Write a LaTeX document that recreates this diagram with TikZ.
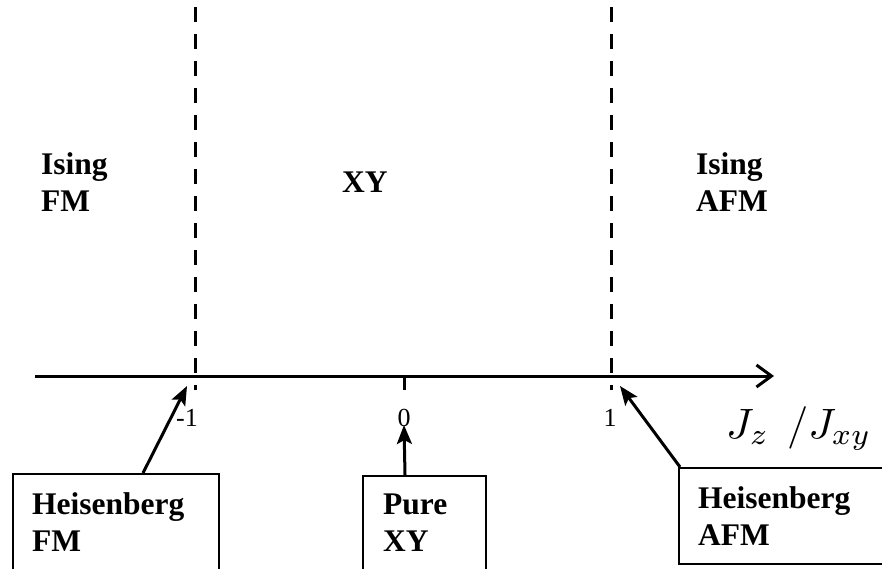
\documentclass[tikz,border=0pt]{standalone}
\usepackage{fontspec}
\setmainfont{Liberation Serif}
\usetikzlibrary{arrows.meta}
\begin{document}
\begin{tikzpicture}[x=1pt,y=-1pt,
  region/.style={font=\fontsize{31.5}{37}\selectfont\bfseries, align=left, inner sep=0pt},
  ticklbl/.style={font=\fontsize{26}{30}\selectfont, inner sep=0pt, anchor=base},
  phasebox/.style={draw, line width=2pt, anchor=north west, inner sep=0pt},
  boundary/.style={line width=3pt, dash pattern=on 15pt off 12pt, dash phase=20pt},
  pointer/.style={line width=3pt, -{Stealth[length=19pt,width=15pt,inset=4pt]}},
  axisline/.style={line width=3pt, -{Straight Barb[length=15pt,width=22pt]}}]
\useasboundingbox (0,0) rectangle (882,569);
\clip (0,0) rectangle (882,569);

% horizontal axis J_z/J_xy
\coordinate (ax0) at (35,376);
\coordinate (ax1) at (774,376);
\draw[axisline] (ax0) -- (ax1);
\node[anchor=base west, inner sep=0pt] (axlbl) at (726,438) {\scalebox{4.25}{$J_z\ \,/J_{xy}$}};

% phase boundaries at -1 and 1
\coordinate (bm) at (195,0);
\coordinate (bp) at (611,0);
\draw[boundary] (bm) -- (195,390);
\draw[boundary] (bp) -- (611,390);

% tick at 0
\coordinate (t0) at (404,376);
\draw[line width=3pt] (t0) -- (404,390);

% tick labels
\node[ticklbl] (lm1) at (187,426) {-1};
\node[ticklbl] (l0) at (404,426) {0};
\node[ticklbl] (lp1) at (610,426) {1};

% phase names
\node[region, anchor=north west] (isfm) at (41,152) {Ising\\FM};
\node[region, anchor=base west] (xy) at (342,193) {XY};
\node[region, anchor=north west] (isafm) at (696,152) {Ising\\AFM};

% special points
\node[phasebox, minimum width=206pt, minimum height=120pt] (hfm) at (12,473) {};
\node[region, anchor=north west] at (32,492) {Heisenberg\\FM};
\node[phasebox, minimum width=123pt, minimum height=120pt] (pxy) at (362,475) {};
\node[region, anchor=north west] at (383,494) {Pure\\XY};
\node[phasebox, minimum width=230pt, minimum height=96pt] (hafm) at (678,467) {};
\node[region, anchor=north west] at (698,486) {Heisenberg\\AFM};

% pointers to the axis
\coordinate (tipL) at (187,386);
\coordinate (tipM) at (404,425);
\coordinate (tipR) at (620,386);
\draw[pointer] ([xshift=27pt]hfm.north) -- (tipL);
\draw[pointer] ([xshift=-19.5pt]pxy.north) -- (tipM);
\draw[pointer] ([xshift=2pt]hafm.north west) -- (tipR);
\end{tikzpicture}
\end{document}
